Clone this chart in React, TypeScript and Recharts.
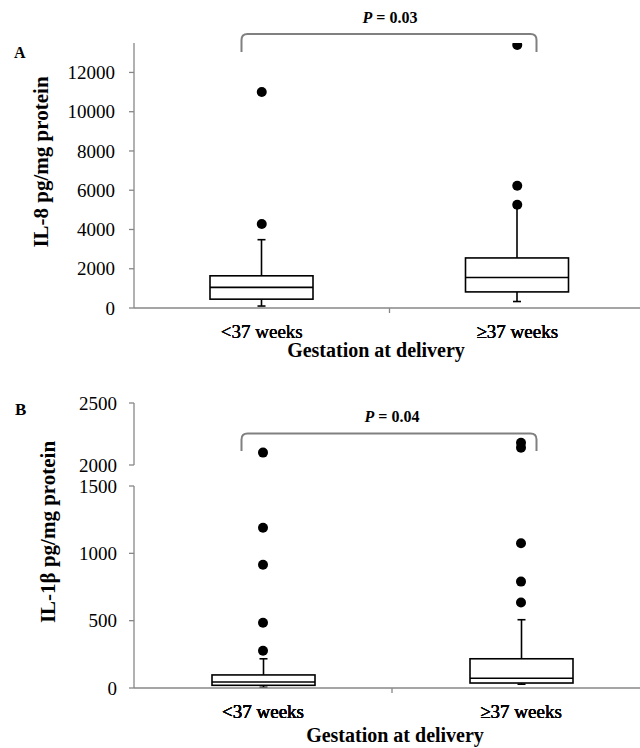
import React from 'react';
import { ComposedChart, Bar, Scatter, XAxis, YAxis, Label } from 'recharts';

// ---------- data ----------
const categories = ['<37 weeks', '≥37 weeks'];

// Panel A: IL-8 (pg/mg protein)
const il8Min = [100, 330];
const il8Q1 = [450, 820];
const il8Median = [1050, 1550];
const il8Q3 = [1640, 2550];
const il8Max = [3480, 5150];
const il8OutliersPreterm = [11000, 4280];
const il8OutliersTerm = [13400, 6230, 5260];
const il8Ticks = [0, 2000, 4000, 6000, 8000, 10000, 12000];

// Panel B: IL-1β (pg/mg protein), broken axis
const il1bMin = [5, 28];
const il1bQ1 = [20, 37];
const il1bMedian = [44, 72];
const il1bQ3 = [97, 217];
const il1bMax = [217, 507];
const il1bOutliersPreterm = [277, 484, 915, 1190, 2100];
const il1bOutliersTerm = [635, 790, 1075, 2140, 2180];
const il1bLowerTicks = [0, 500, 1000, 1500];
const il1bUpperTicks = [2000, 2500];

// ---------- tables ----------
type Row = { cat: string; min: number; q1: number; median: number; q3: number; max: number; range: number[] };
const boxRows = (mn: number[], q1: number[], md: number[], q3: number[], mx: number[]): Row[] =>
  categories.map((cat, i) => ({ cat, min: mn[i], q1: q1[i], median: md[i], q3: q3[i], max: mx[i], range: [mn[i], mx[i]] }));
const outlierRows = (pre: number[], term: number[]) => [
  ...pre.map((v) => ({ cat: categories[0], v })),
  ...term.map((v) => ({ cat: categories[1], v })),
];

const rowsA = boxRows(il8Min, il8Q1, il8Median, il8Q3, il8Max);
const outA = outlierRows(il8OutliersPreterm, il8OutliersTerm);
const rowsB = boxRows(il1bMin, il1bQ1, il1bMedian, il1bQ3, il1bMax);
const outBAll = outlierRows(il1bOutliersPreterm, il1bOutliersTerm);
const outBLower = outBAll.filter((d) => d.v <= 1500);
const outBUpper = outBAll.filter((d) => d.v >= 2000);

// ---------- styles ----------
const SERIF = '"Liberation Serif", "Times New Roman", Times, serif';
const AXIS = '#878787';
const X_TICK_GAP = 16.5;

const BoxShape = (props: any) => {
  const { x, y, width, height, payload } = props;
  const top = Math.min(y, y + height);
  const bottom = Math.max(y, y + height);
  const span = payload.max - payload.min;
  const k = span > 0 ? (bottom - top) / span : 0;
  const py = (v: number) => bottom - (v - payload.min) * k;
  const cx = x + width / 2;
  const cap = 4;
  return (
    <g stroke="#000" strokeWidth={1.6} fill="none">
      <line x1={cx} x2={cx} y1={py(payload.max)} y2={py(payload.q3)} />
      <line x1={cx - cap} x2={cx + cap} y1={py(payload.max)} y2={py(payload.max)} />
      <line x1={cx} x2={cx} y1={py(payload.q1)} y2={py(payload.min)} />
      <line x1={cx - cap} x2={cx + cap} y1={py(payload.min)} y2={py(payload.min)} />
      <rect x={x} y={py(payload.q3)} width={width} height={py(payload.q1) - py(payload.q3)} fill="#fff" />
      <line x1={x} x2={x + width} y1={py(payload.median)} y2={py(payload.median)} />
    </g>
  );
};

const Dot = (p: any) => <circle cx={p.cx} cy={p.cy} r={5} fill="#000" />;

const XTick = (props: any) => {
  const { x, y, payload, index } = props;
  const axisY = y - X_TICK_GAP;
  const off = payload && typeof payload.offset === 'number' ? payload.offset : 0;
  return (
    <g>
      <text x={x} y={y} dy="0.71em" textAnchor="middle" fontSize={19} fontFamily={SERIF} fill="#000">
        {payload.value}
      </text>
      {index === 0 && off ? (
        <line x1={x + off} x2={x + off} y1={axisY} y2={axisY + 5} stroke={AXIS} strokeWidth={1.3} />
      ) : null}
    </g>
  );
};

const yTitle = (text: string, dyCenter: number, xPos: number) => (p: any) => {
  const vb = p.viewBox || {};
  const cy = vb.y + vb.height / 2 + dyCenter;
  return (
    <text
      x={xPos}
      y={cy}
      transform={`rotate(-90 ${xPos} ${cy})`}
      textAnchor="middle"
      dominantBaseline="central"
      fontSize={21}
      fontWeight="bold"
      fontFamily={SERIF}
      fill="#000"
    >
      {text}
    </text>
  );
};

const xTitle = (text: string, dx: number, dy: number) => (p: any) => {
  const vb = p.viewBox || {};
  return (
    <text
      x={vb.x + vb.width / 2 + dx}
      y={vb.y + dy}
      textAnchor="middle"
      fontSize={20}
      fontWeight="bold"
      fontFamily={SERIF}
      fill="#000"
    >
      {text}
    </text>
  );
};

const yTickStyle = { fontSize: 19, fill: '#000', fontFamily: SERIF };

export default function App() {
  return (
    <div style={{ position: 'absolute', left: 0, top: 0, width: 640, height: 748, overflow: 'hidden', background: '#fff' }}>
      {/* Panel A */}
      <div style={{ position: 'absolute', left: 0, top: 0 }}>
        <ComposedChart width={660} height={370} data={rowsA} margin={{ top: 43, right: 15, bottom: 0, left: 0 }}>
          <XAxis
            dataKey="cat"
            scale="band"
            allowDuplicatedCategory={false}
            height={62}
            interval={0}
            axisLine={{ stroke: AXIS, strokeWidth: 1.3 }}
            tickLine={false}
            tickSize={0}
            tickMargin={X_TICK_GAP}
            tick={<XTick />}
          >
            <Label content={xTitle('Gestation at delivery', -13.5, 49)} />
          </XAxis>
          <YAxis
            type="number"
            domain={[0, 13500]}
            allowDataOverflow
            ticks={il8Ticks}
            interval={0}
            width={134}
            axisLine={{ stroke: AXIS, strokeWidth: 1.3 }}
            tickLine={{ stroke: AXIS, strokeWidth: 1.3 }}
            tickSize={5}
            tickMargin={14}
            tick={yTickStyle}
          >
            <Label content={yTitle('IL-8 pg/mg protein', -13.5, 41)} />
          </YAxis>
          <Bar dataKey="range" barSize={103} shape={BoxShape} isAnimationActive={false} />
          <Scatter data={outA} dataKey="v" shape={Dot} isAnimationActive={false} />
        </ComposedChart>
      </div>

      {/* Panel B - lower segment (0–1500), chart box starts high so the axis title fits */}
      <div style={{ position: 'absolute', left: 0, top: 380 }}>
        <ComposedChart width={660} height={368} data={rowsB} margin={{ top: 106, right: 10, bottom: 0, left: 0 }}>
          <XAxis
            dataKey="cat"
            scale="band"
            allowDuplicatedCategory={false}
            height={60}
            interval={0}
            axisLine={{ stroke: AXIS, strokeWidth: 1.3 }}
            tickLine={false}
            tickSize={0}
            tickMargin={X_TICK_GAP}
            tick={<XTick />}
          >
            <Label content={xTitle('Gestation at delivery', 3, 54)} />
          </XAxis>
          <YAxis
            type="number"
            domain={[0, 1500]}
            allowDataOverflow
            ticks={il1bLowerTicks}
            interval={0}
            width={134}
            axisLine={{ stroke: AXIS, strokeWidth: 1.3 }}
            tickLine={{ stroke: AXIS, strokeWidth: 1.3 }}
            tickSize={5}
            tickMargin={12}
            tick={yTickStyle}
          >
            <Label content={yTitle('IL-1β pg/mg protein', -55, 48)} />
          </YAxis>
          <Bar dataKey="range" barSize={103} shape={BoxShape} isAnimationActive={false} />
          <Scatter data={outBLower} dataKey="v" shape={Dot} isAnimationActive={false} />
        </ComposedChart>
      </div>

      {/* Panel B - upper segment of broken axis (2000–2500) */}
      <div style={{ position: 'absolute', left: 0, top: 380 }}>
        <ComposedChart width={660} height={100} data={rowsB} margin={{ top: 23, right: 10, bottom: 15, left: 0 }}>
          <XAxis dataKey="cat" scale="band" allowDuplicatedCategory={false} hide />
          <YAxis
            type="number"
            domain={[2000, 2500]}
            allowDataOverflow
            ticks={il1bUpperTicks}
            interval={0}
            width={134}
            axisLine={{ stroke: AXIS, strokeWidth: 1.3 }}
            tickLine={{ stroke: AXIS, strokeWidth: 1.3 }}
            tickSize={5}
            tickMargin={12}
            tick={yTickStyle}
          />
          <Scatter data={outBUpper} dataKey="v" shape={Dot} isAnimationActive={false} />
        </ComposedChart>
      </div>

      {/* Annotations: panel letters, significance brackets */}
      <svg width={640} height={748} style={{ position: 'absolute', left: 0, top: 0, pointerEvents: 'none' }}>
        <text x={14} y={58} fontSize={16} fontWeight="bold" fontFamily={SERIF} fill="#000">A</text>
        <text x={15} y={415} fontSize={17} fontWeight="bold" fontFamily={SERIF} fill="#000">B</text>

        <path d="M 241.5 52 L 241.5 40 Q 241.5 34 247.5 34 L 530.5 34 Q 536.5 34 536.5 40 L 536.5 52" fill="none" stroke="#808080" strokeWidth={2} />
        <text x={390} y={22.5} textAnchor="middle" fontSize={16} fontWeight="bold" fontFamily={SERIF} fill="#000">
          <tspan fontStyle="italic">P</tspan> = 0.03
        </text>

        <path d="M 241.5 451 L 241.5 439.5 Q 241.5 433.5 247.5 433.5 L 530.5 433.5 Q 536.5 433.5 536.5 439.5 L 536.5 451" fill="none" stroke="#808080" strokeWidth={2} />
        <text x={392} y={422} textAnchor="middle" fontSize={16} fontWeight="bold" fontFamily={SERIF} fill="#000">
          <tspan fontStyle="italic">P</tspan> = 0.04
        </text>
      </svg>
    </div>
  );
}
